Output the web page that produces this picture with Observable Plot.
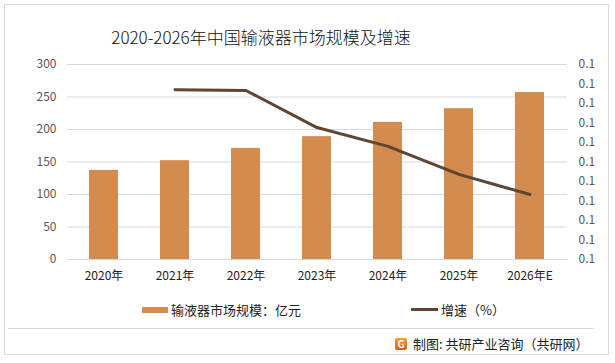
<!DOCTYPE html>
<html><head><meta charset="utf-8">
<script src="https://cdn.jsdelivr.net/npm/d3@7"></script>
<script src="https://cdn.jsdelivr.net/npm/@observablehq/plot@0.6"></script>
<style>
html,body{margin:0;padding:0;background:#fff;}
#page{position:relative;width:615px;height:363px;overflow:hidden;font-family:"Noto Sans CJK SC","Noto Sans",sans-serif;}
#frame{position:absolute;left:4px;top:4px;width:605px;height:351px;border:1px solid #d9d9d9;box-sizing:border-box;}
#title{position:absolute;left:0;top:24px;width:522px;text-align:center;font-size:17px;font-weight:300;color:#111;}
#chart{position:absolute;left:0;top:0;}
.leg{position:absolute;font-size:13px;color:#222;display:flex;align-items:center;}
.sw{display:inline-block;margin-right:3px;}
#sep{position:absolute;left:8px;top:328px;width:586px;height:1px;background:#d9d9d9;}
#foot{position:absolute;left:395px;top:334px;font-size:13px;color:#222;display:flex;align-items:center;}
#logo{width:12px;height:12px;background:linear-gradient(#f7a21b,#e8531f);border-radius:2px;margin-right:6px;color:#fff;font-size:10px;line-height:12px;text-align:center;font-weight:bold;}
</style></head>
<body><div id="page">
<div id="frame"></div>
<div id="chart"></div>
<div id="title">2020-2026年中国输液器市场规模及增速</div>
<div class="leg" style="left:142px;top:300px;"><span class="sw" style="width:26px;height:6px;background:#d38b4f;"></span>输液器市场规模：亿元</div>
<div class="leg" style="left:411px;top:300px;"><span class="sw" style="width:27px;height:3px;background:#5e4631;"></span>增速（%）</div>
<div id="sep"></div>
<div id="foot"><div id="logo">G</div>制图: 共研产业咨询（共研网）</div>
</div>
<script>
const years = ["2020年","2021年","2022年","2023年","2024年","2025年","2026年E"];
const marketSize = [137,152,171,189,211,232,257];
const growthYears = ["2021年","2022年","2023年","2024年","2025年","2026年E"];
const growth = [0.1261,0.1260,0.1203,0.1174,0.1131,0.1100];
const leftTicks = [0,50,100,150,200,250,300];
const growthDomain = [0.10,0.13];
const rightTicks = d3.range(0,301,30);

const bars = years.map((y,i)=>({year:y,value:marketSize[i]}));
const toLeft = g => (g-growthDomain[0])/(growthDomain[1]-growthDomain[0])*300;
const fromLeft = v => growthDomain[0] + v/300*(growthDomain[1]-growthDomain[0]);
const line = growthYears.map((y,i)=>({year:y,g:growth[i]}));

const chart = Plot.plot({
  width:615, height:300,
  marginTop:64, marginBottom:41, marginLeft:67, marginRight:48,
  style:{fontFamily:'"Noto Sans CJK SC","Noto Sans",sans-serif',fontSize:"12px",background:"transparent"},
  x:{domain:years,paddingInner:0.59,paddingOuter:0.295,label:null},
  y:{domain:[0,300],label:null},
  marks:[
    Plot.ruleY(leftTicks,{stroke:"#d9d9d9",strokeWidth:1}),
    Plot.barY(bars,{x:"year",y:"value",fill:"#d38b4f"}),
    Plot.line(line,{x:"year",y:d=>toLeft(d.g),stroke:"#5e4631",strokeWidth:3}),
    Plot.axisX({tickSize:0,tickPadding:12,fill:"#222",fontSize:12}),
    Plot.axisY({ticks:leftTicks,tickSize:0,tickPadding:11,fill:"#595959",fontSize:12,label:null}),
    Plot.axisY({anchor:"right",ticks:rightTicks,tickSize:0,tickPadding:11,fill:"#595959",fontSize:12,label:null,tickFormat:v=>d3.format(".1f")(fromLeft(v))})
  ]
});
document.getElementById("chart").appendChild(chart);
</script>
</body></html>
